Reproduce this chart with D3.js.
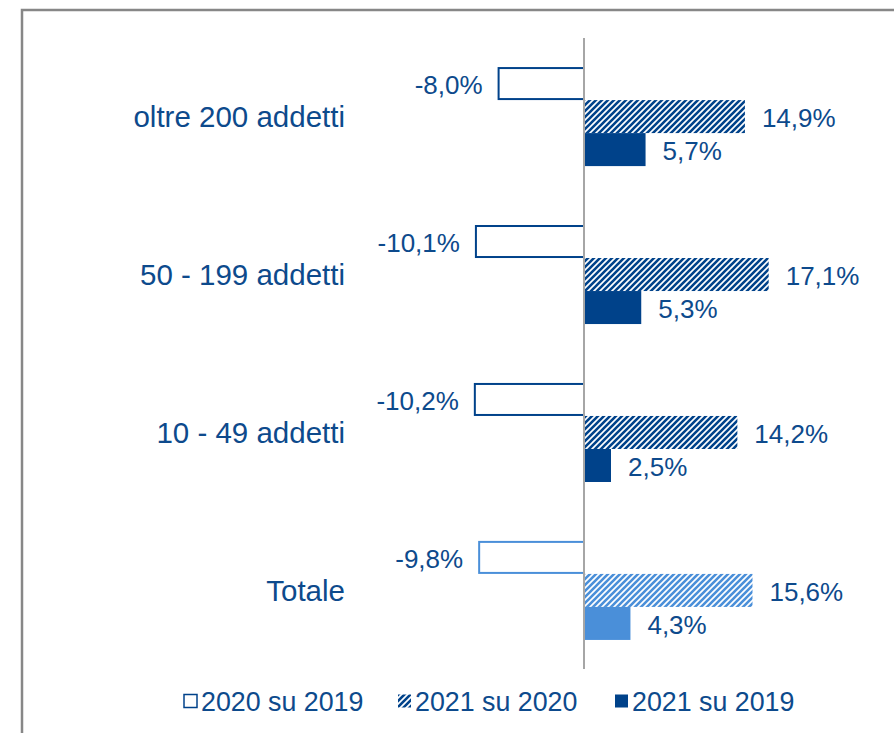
<!DOCTYPE html>
<html>
<head>
<meta charset="utf-8">
<script src="https://d3js.org/d3.v7.min.js"></script>
<style>
  body { margin: 0; background: #fff; }
  svg { display: block; font-family: "Liberation Sans", Arial, sans-serif; }
</style>
</head>
<body>
<div id="chart"></div>
<script>
  var categories = ["oltre 200 addetti", "50 - 199 addetti", "10 - 49 addetti", "Totale"];
  var series = ["2020 su 2019", "2021 su 2020", "2021 su 2019"];
  var v2020su2019 = [-8.0, -10.1, -10.2, -9.8];
  var v2021su2020 = [14.9, 17.1, 14.2, 15.6];
  var v2021su2019 = [5.7, 5.3, 2.5, 4.3];

  var W = 894, H = 733;
  var dark = "#00428a", light = "#4a8fd9", textCol = "#0d4a8c";

  var svg = d3.select("#chart").append("svg")
    .attr("width", W).attr("height", H);

  var defs = svg.append("defs");
  function hatch(id, col) {
    var p = defs.append("pattern")
      .attr("id", id).attr("patternUnits", "userSpaceOnUse")
      .attr("width", 6).attr("height", 6);
    p.append("rect").attr("width", 6).attr("height", 6).attr("fill", "#fff");
    p.append("path")
      .attr("d", "M-1,1 l2,-2 M0,6 l6,-6 M5,7 l2,-2")
      .attr("stroke", col).attr("stroke-width", 2.6);
  }
  hatch("hatchDark", dark);
  hatch("hatchLight", light);

  // frame
  svg.append("rect")
    .attr("x", 22).attr("y", 10).attr("width", 900).attr("height", 760)
    .attr("fill", "none").attr("stroke", "#878787").attr("stroke-width", 2.5);

  var x = d3.scaleLinear().domain([-12, 24]).range([584 - 12 * 10.8, 584 + 24 * 10.8]);
  var y = d3.scaleBand().domain(categories).range([38, 669])
    .paddingInner(0.373).paddingOuter(0.184);
  var ys = d3.scaleBand().domain(series).range([0, y.bandwidth()]);

  var rows = [];
  categories.forEach(function (c, i) {
    var tot = c === "Totale";
    var col = tot ? light : dark;
    rows.push({ cat: c, s: series[0], v: v2020su2019[i], fill: "#fff", stroke: col });
    rows.push({ cat: c, s: series[1], v: v2021su2020[i], fill: tot ? "url(#hatchLight)" : "url(#hatchDark)", stroke: "none" });
    rows.push({ cat: c, s: series[2], v: v2021su2019[i], fill: col, stroke: "none" });
  });

  var fmt = function (v) { return d3.format(".1f")(v).replace(".", ",").replace("\u2212", "-") + "%"; };

  svg.selectAll("rect.bar").data(rows).enter().append("rect")
    .attr("class", "bar")
    .attr("x", function (d) { return d.v < 0 ? x(d.v) + 1 : x(0); })
    .attr("y", function (d) { return y(d.cat) + ys(d.s) + (d.v < 0 ? 1 : 0); })
    .attr("width", function (d) { return d.v < 0 ? x(0) - x(d.v) - 1 : x(d.v) - x(0); })
    .attr("height", function (d) { return ys.bandwidth() - (d.v < 0 ? 2 : 0); })
    .attr("fill", function (d) { return d.fill; })
    .attr("stroke", function (d) { return d.stroke; })
    .attr("stroke-width", 2);

  svg.selectAll("text.lab").data(rows).enter().append("text")
    .attr("class", "lab")
    .attr("x", function (d) { return d.v < 0 ? x(d.v) - 15 : x(d.v) + 17; })
    .attr("y", function (d) { return y(d.cat) + ys(d.s) + ys.bandwidth() / 2; })
    .attr("dy", "0.4em")
    .attr("text-anchor", function (d) { return d.v < 0 ? "end" : "start"; })
    .attr("fill", textCol)
    .style("font-size", "26px")
    .text(function (d) { return fmt(d.v); });

  // zero axis
  svg.append("line")
    .attr("x1", x(0)).attr("x2", x(0)).attr("y1", 38).attr("y2", 669)
    .attr("stroke", "#a6a6a6").attr("stroke-width", 2);

  // category labels
  svg.selectAll("text.cat").data(categories).enter().append("text")
    .attr("class", "cat")
    .attr("x", 345)
    .attr("y", function (d) { return y(d) + y.bandwidth() / 2; })
    .attr("dy", "0.36em")
    .attr("text-anchor", "end")
    .attr("fill", textCol)
    .style("font-size", "29.5px")
    .text(function (d) { return d; });

  // legend
  var legX = [184, 398, 615];
  var legFill = ["#fff", "url(#hatchDark)", dark];
  var lg = svg.selectAll("g.leg").data(series).enter().append("g")
    .attr("class", "leg")
    .attr("transform", function (d, i) { return "translate(" + legX[i] + ",701)"; });
  lg.append("rect")
    .attr("x", 0).attr("y", -6.5).attr("width", 13).attr("height", 13)
    .attr("fill", function (d, i) { return legFill[i]; })
    .attr("stroke", function (d, i) { return i === 0 ? dark : "none"; })
    .attr("stroke-width", 1.5);
  lg.append("text")
    .attr("x", 17).attr("dy", "0.36em")
    .attr("fill", textCol)
    .style("font-size", "26.8px")
    .text(function (d) { return d; });
</script>
</body>
</html>
